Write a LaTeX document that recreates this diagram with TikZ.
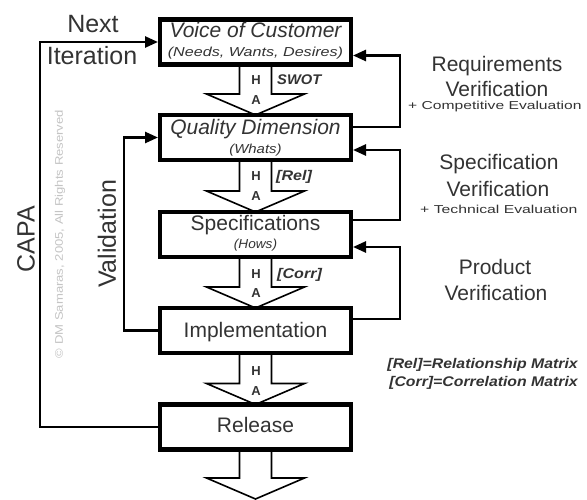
\documentclass[tikz,border=0pt]{standalone}
\usepackage{fontspec}
\setmainfont{Liberation Sans}
\usetikzlibrary{arrows.meta,calc,backgrounds}
\definecolor{txt}{HTML}{333333}
\definecolor{wm}{HTML}{C4C4C4}
\newcommand\fs[1]{\fontsize{#1}{#1}\selectfont}
\newcommand\hsc[2]{\scalebox{#1}[1]{#2}}
\newcommand\blockarrow[2]{%
  \draw[blk] ($(#1)+(-16,0)$) -- ($(#2)+(-16,-21)$) -- ($(#2)+(-49,-21)$) -- (#2)
    -- ($(#2)+(49,-21)$) -- ($(#2)+(16,-21)$) -- ($(#1)+(16,0)$);}
\begin{document}
\begin{tikzpicture}[x=1pt,y=-1pt,
  box/.style={draw=black, line width=4.5pt, fill=white, minimum width=191pt,
    minimum height=45pt, inner sep=0pt, outer sep=0pt},
  conn/.style={draw=black, line width=2.6pt, -{Triangle[length=13pt,width=11pt]}, shorten >=2pt},
  blk/.style={draw=black, line width=1.6pt, fill=white},
  t/.style={text=txt, inner sep=0pt, anchor=base},
  ha/.style={text=txt, inner sep=0pt, anchor=base, font=\fs{13}\bfseries},
  lab/.style={text=txt, inner sep=0pt, anchor=base west, font=\fs{14}\bfseries\itshape}]
\useasboundingbox (0,0) rectangle (587,500);

% boxes
\node[box] (voc) at (255.5,42) {};
\node[box] (qd)  at (255.5,137.5) {};
\node[box] (spec) at (255.5,234.5) {};
\node[box] (impl) at (255.5,330.5) {};
\node[box] (rel) at (255.5,427) {};
\coordinate (endtip) at (255.5,499);

% block arrows
\begin{pgfonlayer}{background}
\fill[white] (0,0) rectangle (587,500);
\blockarrow{voc.south}{qd.north}
\blockarrow{qd.south}{spec.north}
\blockarrow{spec.south}{impl.north}
\blockarrow{impl.south}{rel.north}
\blockarrow{rel.south}{endtip}
\end{pgfonlayer}

% box texts
\node[t] (vocA) at (255.5,38) {\fs{21}\itshape Voice of Customer};
\node[t] (vocB) at (255.5,57) {\fs{13}\itshape\hsc{1.24}{(Needs, Wants, Desires)}};
\node[t] (qdA) at (255.5,135) {\fs{21}\itshape Quality Dimension};
\node[t] (qdB) at (255.5,154) {\fs{13}\itshape\hsc{1.15}{(Whats)}};
\node[t] (specA) at (255.5,230) {\fs{21}Specifications};
\node[t] (specB) at (255.5,249) {\fs{13}\itshape\hsc{1.05}{(Hows)}};
\node[t] (implA) at (255.5,337.5) {\fs{21}Implementation};
\node[t] (relA) at (255.5,432.5) {\fs{21}Release};

% H / A and labels
\node[ha] (h1) at (256,85) {H};  \node[ha] (a1) at (256,105) {A};
\node[ha] (h2) at (256,181) {H}; \node[ha] (a2) at (256,201) {A};
\node[ha] (h3) at (256,278) {H}; \node[ha] (a3) at (256,298) {A};
\node[ha] (h4) at (256,375) {H}; \node[ha] (a4) at (256,395) {A};
\node[lab] (swot) at (277,85) {\hsc{1.05}{SWOT}};
\node[lab] (rlab) at (276,181) {\hsc{1.15}{[Rel]}};
\node[lab] (clab) at (277,279) {\hsc{1.15}{[Corr]}};

% left connectors
\coordinate (capaX) at (40,0);
\coordinate (valX) at (124,0);
\draw[conn] (rel.west) -| (capaX |- voc.west) -- (voc.west);
\draw[conn] (impl.west) -| (valX |- qd.west) -- (qd.west);

% right connectors
\draw[conn] ($(qd.north east)+(0,12)$) -| ($(voc.south east)+(49,-9)$) -- ($(voc.south east)+(0,-9)$);
\draw[conn] ($(spec.north east)+(0,8)$) -| ($(qd.south east)+(49,-10)$) -- ($(qd.south east)+(0,-10)$);
\draw[conn] ($(impl.north east)+(0,11)$) -| ($(spec.south east)+(49,-10)$) -- ($(spec.south east)+(0,-10)$);

% left labels
\node[t] (next) at (93,33) {\fs{25}Next};
\node[t] (iter) at (92,65) {\fs{25}Iteration};
\node[text=txt, inner sep=0pt, rotate=90] (capa) at (26,239) {\fs{25}CAPA};
\node[text=txt, inner sep=0pt, rotate=90] (valid) at (107,234) {\fs{25}Validation};
\node[text=wm, inner sep=0pt, rotate=90] (wmark) at (60,234) {\fs{11}\hsc{1.19}{© DM Samaras, 2005, All Rights Reserved}};

% right labels
\node[t] (rv1) at (497,72) {\fs{21}Requirements};
\node[t] (rv2) at (497,97) {\fs{21}Verification};
\node[text=txt, inner sep=0pt, anchor=base west] (rv3) at (408,110) {\fs{11.5}\hsc{1.36}{+ Competitive Evaluation}};
\node[t] (sv1) at (499,170) {\fs{21}Specification};
\node[t] (sv2) at (498,197) {\fs{21}Verification};
\node[text=txt, inner sep=0pt, anchor=base west] (sv3) at (420,214) {\fs{11.5}\hsc{1.37}{+ Technical Evaluation}};
\node[t] (pv1) at (495,275) {\fs{21}Product};
\node[t] (pv2) at (496,301) {\fs{21}Verification};
\node[text=txt, inner sep=0pt, anchor=base east] (leg1) at (578,368) {\fs{14}\bfseries\itshape\hsc{1.13}{[Rel]=Relationship Matrix}};
\node[text=txt, inner sep=0pt, anchor=base east] (leg2) at (578,386) {\fs{14}\bfseries\itshape\hsc{1.13}{[Corr]=Correlation Matrix}};
\end{tikzpicture}
\end{document}
